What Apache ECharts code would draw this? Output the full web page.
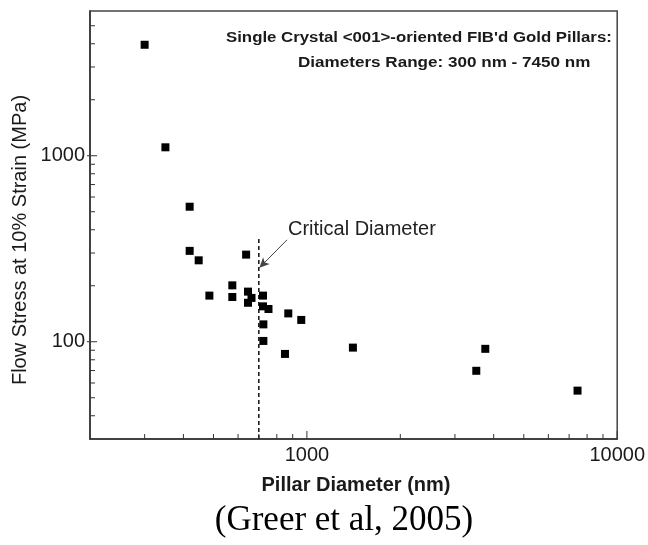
<!DOCTYPE html>
<html>
<head>
<meta charset="utf-8">
<script src="https://cdn.jsdelivr.net/npm/echarts@6/dist/echarts.min.js"></script>
<style>
  html, body { margin: 0; padding: 0; background: #ffffff; }
  #chart { width: 648px; height: 545px; }
</style>
</head>
<body>
<div id="chart"></div>
<script>
// Single-crystal <001> gold pillars: diameter (nm) vs flow stress at 10% strain (MPa)
const diameters  = [300, 350, 419, 419, 448, 637, 485, 575, 575, 646, 663, 646, 722, 722, 752, 871, 959, 724, 724, 850, 1407, 3758, 3515, 7450];
const flowStress = [3950, 1110, 532, 308, 274, 294, 177, 201, 174, 186, 172, 162, 177, 155, 150, 142, 131, 124, 101, 86, 93, 91.6, 69.8, 54.6];

// Axis extents and ticks
const xRange = [200, 10000];
const yRange = [30, 6000];
const xTickLabels = [1000, 10000];
const yTickLabels = [100, 1000];
const xMinorTicks = [300, 400, 500, 600, 700, 800, 900, 2000, 3000, 4000, 5000, 6000, 7000, 8000, 9000];
const yMinorTicks = [40, 50, 60, 70, 80, 90, 200, 300, 400, 500, 600, 700, 800, 900, 2000, 3000, 4000, 5000];

// Critical diameter marker: vertical dashed line and pointer arrow
const criticalDiameter = 700;
const criticalLineStress = [30, 360];
const arrowFrom = [863, 353];
const arrowTo = [703, 250];

const axisColor = '#333';
const textColor = '#1a1a1a';
const sansFont = '"Liberation Sans", Arial, sans-serif';

function isLabelled(v, list) {
  return list.some(t => Math.abs(v - t) / t < 1e-6);
}

function tickSeries(axis, values, len, out) {
  return {
    type: 'custom',
    silent: true,
    clip: false,
    z: 5,
    data: values.map(v => axis === 'x' ? [v, yRange[0]] : [xRange[0], v]),
    renderItem(params, api) {
      const p = api.coord([api.value(0), api.value(1)]);
      const shape = axis === 'x'
        ? { x1: p[0], y1: p[1] + out, x2: p[0], y2: p[1] - len }
        : { x1: p[0] - out, y1: p[1], x2: p[0] + len, y2: p[1] };
      return { type: 'line', shape, style: { stroke: axisColor, lineWidth: 1 } };
    }
  };
}

const chart = echarts.init(document.getElementById('chart'), null, { renderer: 'canvas' });

chart.setOption({
  animation: false,
  backgroundColor: '#ffffff',
  grid: {
    left: 90, top: 11, right: 27, bottom: 106,
    show: true, borderColor: '#444', borderWidth: 1.5, backgroundColor: 'transparent'
  },
  xAxis: {
    type: 'log', logBase: 10, min: xRange[0], max: xRange[1],
    axisLine: { lineStyle: { color: axisColor, width: 1.5 } },
    axisTick: { show: false },
    splitLine: { show: false },
    axisLabel: {
      color: textColor, fontSize: 20, fontFamily: sansFont, margin: 6,
      showMinLabel: false, showMaxLabel: true,
      formatter: v => isLabelled(v, xTickLabels) ? String(Math.round(v)) : ''
    }
  },
  yAxis: {
    type: 'log', logBase: 10, min: yRange[0], max: yRange[1],
    axisLine: { lineStyle: { color: axisColor, width: 1.5 } },
    axisTick: { show: false },
    splitLine: { show: false },
    axisLabel: {
      color: textColor, fontSize: 20, fontFamily: sansFont, margin: 5,
      showMinLabel: false, showMaxLabel: false,
      formatter: v => isLabelled(v, yTickLabels) ? String(Math.round(v)) : ''
    }
  },
  series: [
    {
      type: 'scatter',
      symbol: 'rect',
      symbolSize: 8,
      itemStyle: { color: '#000', opacity: 1 },
      z: 10,
      data: diameters.map((d, i) => [d, flowStress[i]])
    },
    {
      type: 'line',
      symbol: 'none',
      silent: true,
      lineStyle: { color: '#111', width: 1.5, type: [4, 3] },
      data: criticalLineStress.map(s => [criticalDiameter, s]),
      markLine: {
        silent: true,
        symbol: ['none', 'arrow'],
        symbolSize: [7, 10],
        label: { show: false },
        lineStyle: { color: '#444', width: 1, type: 'solid' },
        data: [[{ coord: arrowFrom }, { coord: arrowTo }]]
      }
    },
    tickSeries('x', xTickLabels, 8, 0),
    tickSeries('x', xMinorTicks, 5, 0),
    tickSeries('y', yTickLabels, 7, 3),
    tickSeries('y', yMinorTicks, 5, 0)
  ],
  graphic: [
    {
      type: 'text', x: 226, y: 38, scaleX: 1.2,
      style: {
        text: 'Single Crystal <001>-oriented FIB\'d Gold Pillars:',
        font: 'bold 14px ' + sansFont, fill: textColor, verticalAlign: 'middle'
      }
    },
    {
      type: 'text', x: 298, y: 63, scaleX: 1.22,
      style: {
        text: 'Diameters Range: 300 nm - 7450 nm',
        font: 'bold 14px ' + sansFont, fill: textColor, verticalAlign: 'middle'
      }
    },
    {
      type: 'text', x: 288, y: 229,
      style: { text: 'Critical Diameter', font: '20px ' + sansFont, fill: '#222', verticalAlign: 'middle' }
    },
    {
      type: 'text', x: 20, y: 240, rotation: Math.PI / 2,
      style: {
        text: 'Flow Stress at 10% Strain (MPa)',
        font: '20px ' + sansFont, fill: textColor,
        align: 'center', verticalAlign: 'middle'
      }
    },
    {
      type: 'text', x: 356, y: 485,
      style: {
        text: 'Pillar Diameter (nm)',
        font: 'bold 20px ' + sansFont, fill: textColor,
        align: 'center', verticalAlign: 'middle'
      }
    },
    {
      type: 'text', x: 344, y: 521,
      style: {
        text: '(Greer et al, 2005)',
        font: '35px "Liberation Serif", "Times New Roman", serif', fill: '#000',
        align: 'center', verticalAlign: 'middle'
      }
    }
  ]
});
</script>
</body>
</html>
